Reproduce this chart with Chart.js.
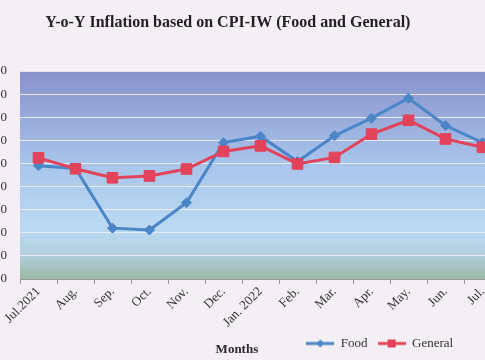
<!DOCTYPE html>
<html><head><meta charset="utf-8">
<script src="https://cdn.jsdelivr.net/npm/chart.js@4.4.0/dist/chart.umd.min.js"></script>
<style>
html,body{margin:0;padding:0;background:#f4eff4;overflow:hidden;width:485px;height:360px;}
#wrap{position:absolute;left:-40px;top:0;width:560px;height:360px;}
</style></head><body>
<div id="wrap"><canvas id="c" width="560" height="360"></canvas></div>
<script>
const chartTitle = 'Y-o-Y Inflation based on CPI-IW (Food and General)';
const axisTitle = 'Months';
const months = ['Jul.2021','Aug.','Sep.','Oct.','Nov.','Dec.','Jan. 2022','Feb.','Mar.','Apr.','May.','Jun.','Jul.'];
const food =    [4.90, 4.78, 2.20, 2.12, 3.30, 5.90, 6.18, 5.08, 6.20, 6.96, 7.82, 6.64, 5.90];
const general = [5.24, 4.77, 4.38, 4.46, 4.76, 5.52, 5.76, 4.98, 5.26, 6.27, 6.87, 6.06, 5.70];
const yMin = 0, yMax = 9, yStep = 1;

const FOOD_C = '#4a86c8';
const GEN_C = '#e2425a';
const SERIF = '"Liberation Serif","Times New Roman",serif';

function legendIcon(color, style, r) {
  const c = document.createElement('canvas');
  c.width = 28; c.height = 16;
  const x = c.getContext('2d');
  x.strokeStyle = color; x.lineWidth = 3;
  x.beginPath(); x.moveTo(0, 8); x.lineTo(28, 8); x.stroke();
  x.fillStyle = color;
  if (style === 'rect') { x.fillRect(14 - r, 8 - r, 2 * r, 2 * r); }
  else { x.beginPath(); x.moveTo(14, 8 - r); x.lineTo(14 + r, 8); x.lineTo(14, 8 + r); x.lineTo(14 - r, 8); x.closePath(); x.fill(); }
  return c;
}
const icons = [legendIcon(FOOD_C, 'diamond', 4), legendIcon(GEN_C, 'rect', 4)];

const plotBg = {
  id: 'plotBg',
  beforeDraw(chart) {
    const {ctx, chartArea: a} = chart;
    const g = ctx.createLinearGradient(0, a.top, 0, a.bottom);
    g.addColorStop(0, '#8891cb');
    g.addColorStop(0.45, '#a8c5eb');
    g.addColorStop(0.75, '#bbd9f2');
    g.addColorStop(0.88, '#b2d0e0');
    g.addColorStop(1, '#9cb8a6');
    ctx.save(); ctx.fillStyle = g; ctx.fillRect(a.left, a.top, a.width, a.height); ctx.restore();
  }
};

const place = {
  id: 'place',
  afterLayout(chart) {
    const a = chart.chartArea;
    const t = chart.titleBlock;
    if (t) { const cx = a.left + 0.432 * a.width; t.left = cx - 250; t.right = cx + 250; t.width = 500; }
    const lg = chart.legend;
    if (lg) { const cx = a.left + 0.748 * a.width; const w = lg.right - lg.left; lg.left = cx - w / 2; lg.right = cx + w / 2; }
  },
  afterDraw(chart) {
    const {ctx, chartArea: a} = chart;
    ctx.save();
    ctx.font = 'bold 13px ' + SERIF;
    ctx.fillStyle = '#2a2a2a';
    ctx.textAlign = 'center'; ctx.textBaseline = 'middle';
    ctx.fillText(axisTitle, a.left + 0.451 * a.width, chart.height - 10);
    ctx.restore();
  }
};

new Chart(document.getElementById('c'), {
  type: 'line',
  data: {
    labels: months,
    datasets: [
      { label: 'Food', data: food, borderColor: FOOD_C, backgroundColor: FOOD_C, borderWidth: 3,
        pointStyle: 'rectRot', pointRadius: 5, pointBorderWidth: 1, tension: 0, order: 1 },
      { label: 'General', data: general, borderColor: GEN_C, backgroundColor: GEN_C, borderWidth: 3,
        pointStyle: 'rect', pointRadius: 7.5, pointBorderWidth: 1, tension: 0, order: 0 }
    ]
  },
  options: {
    responsive: false,
    animation: false,
    devicePixelRatio: 1,
    layout: { padding: { left: 0, right: 19, top: 0, bottom: 0 } },
    plugins: {
      title: { display: true, text: chartTitle, color: '#222', font: { family: SERIF, size: 16, weight: 'bold' },
               padding: { top: 13, bottom: 38.8 } },
      legend: {
        position: 'bottom', align: 'center',
        labels: {
          sort: (a, b) => a.datasetIndex - b.datasetIndex,
          color: '#333', font: { family: SERIF, size: 13 }, usePointStyle: true, pointStyleWidth: 28, padding: 10,
          generateLabels(chart) {
            const items = Chart.defaults.plugins.legend.labels.generateLabels(chart);
            items.forEach(it => { it.pointStyle = icons[it.datasetIndex]; });
            return items;
          }
        }
      },
      tooltip: { enabled: false }
    },
    scales: {
      x: {
        offset: true,
        grid: { display: true, offset: true, drawOnChartArea: false, drawTicks: true, tickLength: 5, color: '#999' },
        border: { display: true, color: '#999' },
        ticks: { color: '#333', font: { family: SERIF, size: 13 }, maxRotation: 45, minRotation: 45, padding: 0, autoSkip: false },
        afterFit(s) { s.height = 48; }
      },
      y: {
        min: yMin, max: yMax,
        grid: { color: 'rgba(238,238,248,0.9)', lineWidth: 1, drawTicks: false },
        border: { display: false },
        ticks: { stepSize: yStep, color: '#333', font: { family: SERIF, size: 13 }, padding: 13,
                 callback: v => Number(v).toFixed(2) },
        afterFit(s) { s.width = 60; }
      }
    }
  },
  plugins: [plotBg, place]
});
</script>
</body></html>
